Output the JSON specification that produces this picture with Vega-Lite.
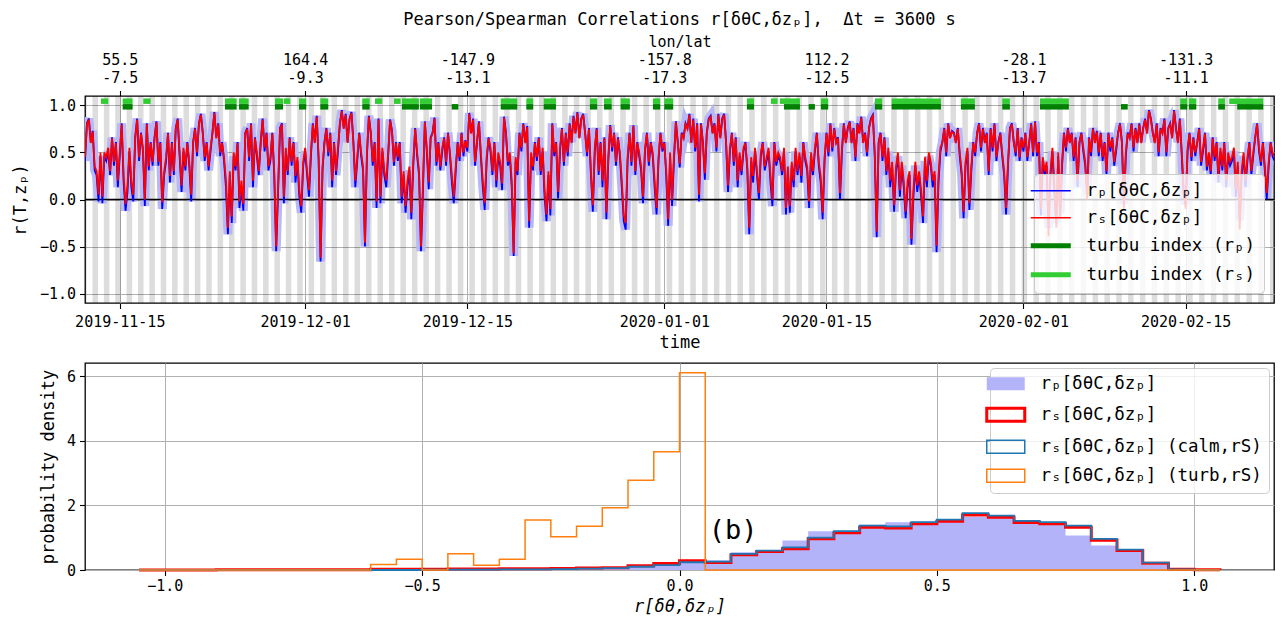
{
  "$schema": "https://vega.github.io/schema/vega-lite/v6.json",
  "background": "white",
  "padding": {"left": 10, "top": 9, "right": 9, "bottom": 3},
  "config": {
    "font": "DejaVu Sans Mono",
    "view": {"stroke": "black", "strokeWidth": 1.3},
    "axis": {"labelFont": "DejaVu Sans Mono", "labelFontSize": 15, "labelColor": "black", "titleFont": "DejaVu Sans Mono", "titleFontSize": 17, "titleFontWeight": "normal", "titleColor": "black", "tickColor": "black", "tickSize": 5.5, "tickWidth": 1.1, "domain": false, "gridColor": "#b0b0b0", "gridWidth": 1, "labelPadding": 4},
    "legend": {"labelFont": "DejaVu Sans Mono", "labelFontSize": 17.5, "labelColor": "black", "labelLimit": 0},
    "title": {"font": "DejaVu Sans Mono", "fontSize": 17, "fontWeight": "normal", "color": "black"}
  },
  "resolve": {"scale": {"stroke": "independent", "strokeWidth": "independent", "fill": "independent", "color": "independent"}, "legend": {"stroke": "independent", "strokeWidth": "independent", "fill": "independent"}},
  "spacing": 10,
  "datasets": {
    "bands": [
      {"a":"2019-11-11T15:57","b":"2019-11-12T03:28"},{"a":"2019-11-12T15:30","b":"2019-11-13T03:01"},{"a":"2019-11-13T15:03","b":"2019-11-14T02:34"},{"a":"2019-11-14T14:36","b":"2019-11-15T02:08"},
      {"a":"2019-11-15T14:10","b":"2019-11-16T01:41"},{"a":"2019-11-16T13:43","b":"2019-11-17T01:14"},{"a":"2019-11-17T13:16","b":"2019-11-18T00:48"},{"a":"2019-11-18T12:50","b":"2019-11-19T00:21"},
      {"a":"2019-11-19T12:23","b":"2019-11-19T23:54"},{"a":"2019-11-20T11:56","b":"2019-11-20T23:27"},{"a":"2019-11-21T11:30","b":"2019-11-21T23:01"},{"a":"2019-11-22T11:03","b":"2019-11-22T22:34"},
      {"a":"2019-11-23T10:36","b":"2019-11-23T22:07"},{"a":"2019-11-24T10:09","b":"2019-11-24T21:40"},{"a":"2019-11-25T09:43","b":"2019-11-25T21:14"},{"a":"2019-11-26T09:16","b":"2019-11-26T20:47"},
      {"a":"2019-11-27T08:49","b":"2019-11-27T20:20"},{"a":"2019-11-28T08:22","b":"2019-11-28T19:54"},{"a":"2019-11-29T07:56","b":"2019-11-29T19:27"},{"a":"2019-11-30T07:29","b":"2019-11-30T19:00"},
      {"a":"2019-12-01T07:09","b":"2019-12-01T18:40"},{"a":"2019-12-02T06:56","b":"2019-12-02T18:27"},{"a":"2019-12-03T06:42","b":"2019-12-03T18:13"},{"a":"2019-12-04T06:29","b":"2019-12-04T18:00"},
      {"a":"2019-12-05T06:15","b":"2019-12-05T17:47"},{"a":"2019-12-06T06:02","b":"2019-12-06T17:33"},{"a":"2019-12-07T05:48","b":"2019-12-07T17:20"},{"a":"2019-12-08T05:35","b":"2019-12-08T17:06"},
      {"a":"2019-12-09T05:21","b":"2019-12-09T16:52"},{"a":"2019-12-10T05:08","b":"2019-12-10T16:39"},{"a":"2019-12-11T04:54","b":"2019-12-11T16:26"},{"a":"2019-12-12T04:41","b":"2019-12-12T16:12"},
      {"a":"2019-12-13T04:27","b":"2019-12-13T15:58"},{"a":"2019-12-14T04:14","b":"2019-12-14T15:45"},{"a":"2019-12-15T04:07","b":"2019-12-15T15:38"},{"a":"2019-12-16T04:09","b":"2019-12-16T15:41"},
      {"a":"2019-12-17T04:12","b":"2019-12-17T15:43"},{"a":"2019-12-18T04:14","b":"2019-12-18T15:45"},{"a":"2019-12-19T04:16","b":"2019-12-19T15:47"},{"a":"2019-12-20T04:19","b":"2019-12-20T15:50"},
      {"a":"2019-12-21T04:21","b":"2019-12-21T15:52"},{"a":"2019-12-22T04:23","b":"2019-12-22T15:54"},{"a":"2019-12-23T04:26","b":"2019-12-23T15:57"},{"a":"2019-12-24T04:28","b":"2019-12-24T15:59"},
      {"a":"2019-12-25T04:30","b":"2019-12-25T16:01"},{"a":"2019-12-26T04:33","b":"2019-12-26T16:04"},{"a":"2019-12-27T04:35","b":"2019-12-27T16:06"},{"a":"2019-12-28T04:37","b":"2019-12-28T16:08"},
      {"a":"2019-12-29T04:40","b":"2019-12-29T16:11"},{"a":"2019-12-30T04:42","b":"2019-12-30T16:13"},{"a":"2019-12-31T04:44","b":"2019-12-31T16:15"},{"a":"2020-01-01T04:57","b":"2020-01-01T16:28"},
      {"a":"2020-01-02T05:23","b":"2020-01-02T16:54"},{"a":"2020-01-03T05:49","b":"2020-01-03T17:20"},{"a":"2020-01-04T06:15","b":"2020-01-04T17:46"},{"a":"2020-01-05T06:41","b":"2020-01-05T18:12"},
      {"a":"2020-01-06T07:08","b":"2020-01-06T18:39"},{"a":"2020-01-07T07:34","b":"2020-01-07T19:05"},{"a":"2020-01-08T08:00","b":"2020-01-08T19:31"},{"a":"2020-01-09T08:26","b":"2020-01-09T19:57"},
      {"a":"2020-01-10T08:52","b":"2020-01-10T20:23"},{"a":"2020-01-11T09:19","b":"2020-01-11T20:50"},{"a":"2020-01-12T09:45","b":"2020-01-12T21:16"},{"a":"2020-01-13T10:11","b":"2020-01-13T21:42"},
      {"a":"2020-01-14T10:37","b":"2020-01-14T22:08"},{"a":"2020-01-15T11:09","b":"2020-01-15T22:40"},{"a":"2020-01-16T11:42","b":"2020-01-16T23:13"},{"a":"2020-01-17T12:16","b":"2020-01-17T23:47"},
      {"a":"2020-01-18T12:50","b":"2020-01-19T00:21"},{"a":"2020-01-19T13:24","b":"2020-01-20T00:55"},{"a":"2020-01-20T13:58","b":"2020-01-21T01:29"},{"a":"2020-01-21T14:31","b":"2020-01-22T02:03"},
      {"a":"2020-01-22T15:05","b":"2020-01-23T02:37"},{"a":"2020-01-23T15:39","b":"2020-01-24T03:10"},{"a":"2020-01-24T16:13","b":"2020-01-25T03:44"},{"a":"2020-01-25T16:47","b":"2020-01-26T04:18"},
      {"a":"2020-01-26T17:20","b":"2020-01-27T04:52"},{"a":"2020-01-27T17:54","b":"2020-01-28T05:25"},{"a":"2020-01-28T18:28","b":"2020-01-29T05:59"},{"a":"2020-01-29T19:02","b":"2020-01-30T06:33"},
      {"a":"2020-01-30T19:36","b":"2020-01-31T07:07"},{"a":"2020-01-31T20:09","b":"2020-02-01T07:40"},{"a":"2020-02-01T20:39","b":"2020-02-02T08:11"},{"a":"2020-02-02T21:09","b":"2020-02-03T08:41"},
      {"a":"2020-02-03T21:39","b":"2020-02-04T09:11"},{"a":"2020-02-04T22:10","b":"2020-02-05T09:41"},{"a":"2020-02-05T22:40","b":"2020-02-06T10:11"},{"a":"2020-02-06T23:10","b":"2020-02-07T10:41"},
      {"a":"2020-02-07T23:40","b":"2020-02-08T11:11"},{"a":"2020-02-09T00:10","b":"2020-02-09T11:41"},{"a":"2020-02-10T00:40","b":"2020-02-10T12:11"},{"a":"2020-02-11T01:10","b":"2020-02-11T12:41"},
      {"a":"2020-02-12T01:40","b":"2020-02-12T13:11"},{"a":"2020-02-13T02:10","b":"2020-02-13T13:42"},{"a":"2020-02-14T02:40","b":"2020-02-14T14:12"},{"a":"2020-02-15T03:11","b":"2020-02-15T14:42"},
      {"a":"2020-02-16T03:41","b":"2020-02-16T15:12"},{"a":"2020-02-17T04:11","b":"2020-02-17T15:42"},{"a":"2020-02-18T04:41","b":"2020-02-18T16:12"},{"a":"2020-02-19T05:11","b":"2020-02-19T16:42"},
      {"a":"2020-02-20T05:41","b":"2020-02-20T17:12"},{"a":"2020-02-21T06:11","b":"2020-02-21T17:42"},{"a":"2020-02-22T06:41","b":"2020-02-22T18:12"}
    ],
    "greens": [
      {"a":"2019-11-13T09:07","b":"2019-11-14T00:14","k":"S"},
      {"a":"2019-11-15T06:00","b":"2019-11-16T02:38","k":"S"},{"a":"2019-11-15T06:00","b":"2019-11-16T02:38","k":"P"},
      {"a":"2019-11-17T00:43","b":"2019-11-17T16:05","k":"S"},
      {"a":"2019-11-24T01:55","b":"2019-11-25T02:10","k":"S"},{"a":"2019-11-24T01:55","b":"2019-11-25T02:10","k":"P"},
      {"a":"2019-11-25T06:58","b":"2019-11-26T03:07","k":"S"},{"a":"2019-11-25T06:58","b":"2019-11-26T03:07","k":"P"},
      {"a":"2019-11-28T09:36","b":"2019-11-29T02:10","k":"S"},{"a":"2019-11-28T09:36","b":"2019-11-29T02:10","k":"P"},
      {"a":"2019-11-29T03:36","b":"2019-11-29T17:17","k":"S"},
      {"a":"2019-11-30T11:17","b":"2019-12-01T02:24","k":"S"},{"a":"2019-11-30T11:17","b":"2019-12-01T02:24","k":"P"},
      {"a":"2019-12-02T07:26","b":"2019-12-03T00:00","k":"S"},{"a":"2019-12-02T07:26","b":"2019-12-03T00:00","k":"P"},
      {"a":"2019-12-05T22:19","b":"2019-12-06T13:41","k":"S"},{"a":"2019-12-05T22:19","b":"2019-12-06T13:41","k":"P"},
      {"a":"2019-12-07T00:43","b":"2019-12-07T15:50","k":"S"},
      {"a":"2019-12-08T16:05","b":"2019-12-09T05:46","k":"S"},
      {"a":"2019-12-09T08:38","b":"2019-12-10T19:41","k":"S"},{"a":"2019-12-09T08:38","b":"2019-12-10T19:41","k":"P"},
      {"a":"2019-12-10T21:50","b":"2019-12-11T22:48","k":"S"},{"a":"2019-12-10T21:50","b":"2019-12-11T22:48","k":"P"},
      {"a":"2019-12-13T15:36","b":"2019-12-14T05:17","k":"P"},
      {"a":"2019-12-17T21:07","b":"2019-12-19T07:26","k":"S"},{"a":"2019-12-17T21:07","b":"2019-12-19T07:26","k":"P"},
      {"a":"2019-12-20T02:10","b":"2019-12-20T16:34","k":"S"},{"a":"2019-12-20T02:10","b":"2019-12-20T16:34","k":"P"},
      {"a":"2019-12-21T14:10","b":"2019-12-22T15:36","k":"S"},{"a":"2019-12-21T14:10","b":"2019-12-22T15:36","k":"P"},
      {"a":"2019-12-25T13:55","b":"2019-12-26T05:02","k":"S"},{"a":"2019-12-25T13:55","b":"2019-12-26T05:02","k":"P"},
      {"a":"2019-12-26T18:58","b":"2019-12-27T11:02","k":"S"},{"a":"2019-12-26T18:58","b":"2019-12-27T11:02","k":"P"},
      {"a":"2019-12-28T05:31","b":"2019-12-29T00:43","k":"S"},{"a":"2019-12-28T05:31","b":"2019-12-29T00:43","k":"P"},
      {"a":"2019-12-31T00:29","b":"2019-12-31T15:36","k":"S"},{"a":"2019-12-31T00:29","b":"2019-12-31T15:36","k":"P"},
      {"a":"2020-01-01T00:00","b":"2020-01-01T18:29","k":"S"},{"a":"2020-01-01T00:00","b":"2020-01-01T18:29","k":"P"},
      {"a":"2020-01-08T03:07","b":"2020-01-08T17:46","k":"S"},{"a":"2020-01-08T03:07","b":"2020-01-08T17:46","k":"P"},
      {"a":"2020-01-10T05:02","b":"2020-01-10T18:43","k":"S"},
      {"a":"2020-01-10T23:31","b":"2020-01-12T17:02","k":"S"},{"a":"2020-01-11T07:55","b":"2020-01-12T17:02","k":"P"},
      {"a":"2020-01-13T11:02","b":"2020-01-14T00:00","k":"P"},
      {"a":"2020-01-14T12:29","b":"2020-01-15T03:36","k":"S"},{"a":"2020-01-14T12:29","b":"2020-01-15T03:36","k":"P"},
      {"a":"2020-01-19T04:19","b":"2020-01-19T19:26","k":"S"},{"a":"2020-01-19T04:19","b":"2020-01-19T19:26","k":"P"},
      {"a":"2020-01-20T14:53","b":"2020-01-24T21:07","k":"S"},{"a":"2020-01-20T14:53","b":"2020-01-24T21:07","k":"P"},
      {"a":"2020-01-26T14:24","b":"2020-01-27T19:26","k":"S"},{"a":"2020-01-26T14:24","b":"2020-01-27T19:26","k":"P"},
      {"a":"2020-01-30T04:05","b":"2020-01-30T19:55","k":"S"},{"a":"2020-01-30T04:05","b":"2020-01-30T19:55","k":"P"},
      {"a":"2020-02-02T10:05","b":"2020-02-04T22:05","k":"S"},{"a":"2020-02-02T10:05","b":"2020-02-04T22:05","k":"P"},
      {"a":"2020-02-09T10:05","b":"2020-02-10T00:00","k":"P"},
      {"a":"2020-02-14T12:43","b":"2020-02-15T03:22","k":"S"},{"a":"2020-02-14T12:43","b":"2020-02-15T03:22","k":"P"},
      {"a":"2020-02-15T06:58","b":"2020-02-15T22:05","k":"S"},{"a":"2020-02-15T06:58","b":"2020-02-15T22:05","k":"P"},
      {"a":"2020-02-17T19:26","b":"2020-02-18T09:22","k":"S"},{"a":"2020-02-17T19:26","b":"2020-02-18T09:22","k":"P"},
      {"a":"2020-02-18T18:14","b":"2020-02-21T16:48","k":"S"},{"a":"2020-02-19T10:48","b":"2020-02-21T16:48","k":"P"}
    ],
    "ts": [
      {"t":"2019-11-12T00:00","p":0.41,"s":0.45},{"t":"2019-11-12T04:00","p":0.81,"s":0.8},{"t":"2019-11-12T08:00","p":0.86,"s":0.85},{"t":"2019-11-12T12:00","p":0.61,"s":0.6},{"t":"2019-11-12T16:00","p":0.73,"s":0.72},{"t":"2019-11-12T20:00","p":0.31,"s":0.35},
      {"t":"2019-11-13T00:00","p":0.26,"s":0.3},{"t":"2019-11-13T04:00","p":-0.02,"s":0.05},{"t":"2019-11-13T08:00","p":0.46,"s":0.5},{"t":"2019-11-13T12:00","p":-0.04,"s":0.03},{"t":"2019-11-13T16:00","p":0.46,"s":0.5},{"t":"2019-11-13T20:00","p":0.41,"s":0.45},
      {"t":"2019-11-14T00:00","p":0.51,"s":0.55},{"t":"2019-11-14T04:00","p":0.26,"s":0.3},{"t":"2019-11-14T08:00","p":0.66,"s":0.65},{"t":"2019-11-14T12:00","p":0.36,"s":0.4},{"t":"2019-11-14T16:00","p":0.61,"s":0.6},{"t":"2019-11-14T20:00","p":0.13,"s":0.2},
      {"t":"2019-11-15T00:00","p":0.46,"s":0.5},{"t":"2019-11-15T04:00","p":0.81,"s":0.8},{"t":"2019-11-15T08:00","p":0.18,"s":0.25},{"t":"2019-11-15T12:00","p":-0.12,"s":-0.05},{"t":"2019-11-15T16:00","p":0.08,"s":0.15},{"t":"2019-11-15T20:00","p":0.51,"s":0.55},
      {"t":"2019-11-16T00:00","p":0.13,"s":0.2},{"t":"2019-11-16T04:00","p":-0.02,"s":0.05},{"t":"2019-11-16T08:00","p":0.66,"s":0.65},{"t":"2019-11-16T12:00","p":0.86,"s":0.85},{"t":"2019-11-16T16:00","p":0.41,"s":0.45},{"t":"2019-11-16T20:00","p":0.71,"s":0.7},
      {"t":"2019-11-17T00:00","p":0.51,"s":0.55},{"t":"2019-11-17T04:00","p":-0.07,"s":0.0},{"t":"2019-11-17T08:00","p":0.81,"s":0.8},{"t":"2019-11-17T12:00","p":0.31,"s":0.35},{"t":"2019-11-17T16:00","p":0.61,"s":0.6},{"t":"2019-11-17T20:00","p":0.36,"s":0.4},
      {"t":"2019-11-18T00:00","p":0.66,"s":0.65},{"t":"2019-11-18T04:00","p":0.83,"s":0.82},{"t":"2019-11-18T08:00","p":0.36,"s":0.4},{"t":"2019-11-18T12:00","p":0.61,"s":0.6},{"t":"2019-11-18T16:00","p":-0.1,"s":-0.03},{"t":"2019-11-18T20:00","p":0.26,"s":0.3},
      {"t":"2019-11-19T00:00","p":0.41,"s":0.45},{"t":"2019-11-19T04:00","p":0.71,"s":0.7},{"t":"2019-11-19T08:00","p":0.18,"s":0.25},{"t":"2019-11-19T12:00","p":0.61,"s":0.6},{"t":"2019-11-19T16:00","p":0.26,"s":0.3},{"t":"2019-11-19T20:00","p":0.76,"s":0.75},
      {"t":"2019-11-20T00:00","p":0.86,"s":0.85},{"t":"2019-11-20T04:00","p":0.46,"s":0.5},{"t":"2019-11-20T08:00","p":0.08,"s":0.15},{"t":"2019-11-20T12:00","p":0.51,"s":0.55},{"t":"2019-11-20T16:00","p":0.31,"s":0.35},{"t":"2019-11-20T20:00","p":0.61,"s":0.6},
      {"t":"2019-11-21T00:00","p":0.36,"s":0.4},{"t":"2019-11-21T04:00","p":-0.02,"s":0.05},{"t":"2019-11-21T08:00","p":0.61,"s":0.6},{"t":"2019-11-21T12:00","p":0.76,"s":0.75},{"t":"2019-11-21T16:00","p":0.46,"s":0.5},{"t":"2019-11-21T20:00","p":0.81,"s":0.8},
      {"t":"2019-11-22T00:00","p":0.91,"s":0.9},{"t":"2019-11-22T04:00","p":0.71,"s":0.7},{"t":"2019-11-22T08:00","p":0.41,"s":0.45},{"t":"2019-11-22T12:00","p":0.61,"s":0.6},{"t":"2019-11-22T16:00","p":0.31,"s":0.35},{"t":"2019-11-22T20:00","p":0.51,"s":0.55},
      {"t":"2019-11-23T00:00","p":0.71,"s":0.7},{"t":"2019-11-23T04:00","p":0.93,"s":0.92},{"t":"2019-11-23T08:00","p":0.66,"s":0.65},{"t":"2019-11-23T12:00","p":0.81,"s":0.8},{"t":"2019-11-23T16:00","p":0.46,"s":0.5},{"t":"2019-11-23T20:00","p":0.61,"s":0.6},
      {"t":"2019-11-24T00:00","p":0.41,"s":0.45},{"t":"2019-11-24T04:00","p":0.13,"s":0.2},{"t":"2019-11-24T08:00","p":-0.37,"s":-0.3},{"t":"2019-11-24T12:00","p":0.26,"s":0.3},{"t":"2019-11-24T16:00","p":-0.25,"s":-0.18},{"t":"2019-11-24T20:00","p":0.46,"s":0.5},
      {"t":"2019-11-25T00:00","p":0.31,"s":0.35},{"t":"2019-11-25T04:00","p":0.61,"s":0.6},{"t":"2019-11-25T08:00","p":-0.09,"s":-0.02},{"t":"2019-11-25T12:00","p":0.13,"s":0.2},{"t":"2019-11-25T16:00","p":-0.12,"s":-0.05},{"t":"2019-11-25T20:00","p":0.71,"s":0.7},
      {"t":"2019-11-26T00:00","p":0.76,"s":0.75},{"t":"2019-11-26T04:00","p":0.41,"s":0.45},{"t":"2019-11-26T08:00","p":0.81,"s":0.8},{"t":"2019-11-26T12:00","p":0.13,"s":0.2},{"t":"2019-11-26T16:00","p":0.66,"s":0.65},{"t":"2019-11-26T20:00","p":0.46,"s":0.5},
      {"t":"2019-11-27T00:00","p":0.26,"s":0.3},{"t":"2019-11-27T04:00","p":0.61,"s":0.6},{"t":"2019-11-27T08:00","p":0.86,"s":0.85},{"t":"2019-11-27T12:00","p":0.51,"s":0.55},{"t":"2019-11-27T16:00","p":0.71,"s":0.7},{"t":"2019-11-27T20:00","p":0.31,"s":0.35},
      {"t":"2019-11-28T00:00","p":0.41,"s":0.45},{"t":"2019-11-28T04:00","p":0.71,"s":0.7},{"t":"2019-11-28T08:00","p":0.26,"s":0.3},{"t":"2019-11-28T12:00","p":-0.55,"s":-0.5},{"t":"2019-11-28T16:00","p":0.08,"s":0.15},{"t":"2019-11-28T20:00","p":0.76,"s":0.75},
      {"t":"2019-11-29T00:00","p":0.81,"s":0.8},{"t":"2019-11-29T04:00","p":-0.04,"s":0.03},{"t":"2019-11-29T08:00","p":0.51,"s":0.55},{"t":"2019-11-29T12:00","p":0.26,"s":0.3},{"t":"2019-11-29T16:00","p":0.66,"s":0.65},{"t":"2019-11-29T20:00","p":0.36,"s":0.4},
      {"t":"2019-11-30T00:00","p":0.61,"s":0.6},{"t":"2019-11-30T04:00","p":0.18,"s":0.25},{"t":"2019-11-30T08:00","p":0.41,"s":0.45},{"t":"2019-11-30T12:00","p":0.03,"s":0.1},{"t":"2019-11-30T16:00","p":-0.14,"s":-0.07},{"t":"2019-11-30T20:00","p":0.36,"s":0.4},
      {"t":"2019-12-01T00:00","p":0.51,"s":0.55},{"t":"2019-12-01T04:00","p":0.26,"s":0.3},{"t":"2019-12-01T08:00","p":0.03,"s":0.1},{"t":"2019-12-01T12:00","p":0.46,"s":0.5},{"t":"2019-12-01T16:00","p":0.81,"s":0.8},{"t":"2019-12-01T20:00","p":0.61,"s":0.6},
      {"t":"2019-12-02T00:00","p":0.89,"s":0.88},{"t":"2019-12-02T04:00","p":0.41,"s":0.45},{"t":"2019-12-02T08:00","p":-0.66,"s":-0.62},{"t":"2019-12-02T12:00","p":0.31,"s":0.35},{"t":"2019-12-02T16:00","p":0.61,"s":0.6},{"t":"2019-12-02T20:00","p":0.76,"s":0.75},
      {"t":"2019-12-03T00:00","p":0.46,"s":0.5},{"t":"2019-12-03T04:00","p":0.71,"s":0.7},{"t":"2019-12-03T08:00","p":0.13,"s":0.2},{"t":"2019-12-03T12:00","p":0.61,"s":0.6},{"t":"2019-12-03T16:00","p":0.26,"s":0.3},{"t":"2019-12-03T20:00","p":0.51,"s":0.55},
      {"t":"2019-12-04T00:00","p":0.81,"s":0.8},{"t":"2019-12-04T04:00","p":0.95,"s":0.94},{"t":"2019-12-04T08:00","p":0.76,"s":0.75},{"t":"2019-12-04T12:00","p":0.91,"s":0.9},{"t":"2019-12-04T16:00","p":0.61,"s":0.6},{"t":"2019-12-04T20:00","p":0.86,"s":0.85},
      {"t":"2019-12-05T00:00","p":0.93,"s":0.92},{"t":"2019-12-05T04:00","p":0.61,"s":0.6},{"t":"2019-12-05T08:00","p":0.13,"s":0.2},{"t":"2019-12-05T12:00","p":0.41,"s":0.45},{"t":"2019-12-05T16:00","p":0.71,"s":0.7},{"t":"2019-12-05T20:00","p":0.46,"s":0.5},
      {"t":"2019-12-06T00:00","p":0.31,"s":0.35},{"t":"2019-12-06T04:00","p":-0.5,"s":-0.46},{"t":"2019-12-06T08:00","p":0.46,"s":0.5},{"t":"2019-12-06T12:00","p":0.89,"s":0.88},{"t":"2019-12-06T16:00","p":0.71,"s":0.7},{"t":"2019-12-06T20:00","p":0.36,"s":0.4},
      {"t":"2019-12-07T00:00","p":0.61,"s":0.6},{"t":"2019-12-07T04:00","p":-0.09,"s":-0.02},{"t":"2019-12-07T08:00","p":0.86,"s":0.85},{"t":"2019-12-07T12:00","p":-0.04,"s":0.03},{"t":"2019-12-07T16:00","p":0.51,"s":0.55},{"t":"2019-12-07T20:00","p":0.26,"s":0.3},
      {"t":"2019-12-08T00:00","p":0.13,"s":0.2},{"t":"2019-12-08T04:00","p":0.46,"s":0.5},{"t":"2019-12-08T08:00","p":0.85,"s":0.84},{"t":"2019-12-08T12:00","p":0.73,"s":0.72},{"t":"2019-12-08T16:00","p":0.36,"s":0.4},{"t":"2019-12-08T20:00","p":0.61,"s":0.6},
      {"t":"2019-12-09T00:00","p":0.41,"s":0.45},{"t":"2019-12-09T04:00","p":0.61,"s":0.6},{"t":"2019-12-09T08:00","p":-0.04,"s":0.03},{"t":"2019-12-09T12:00","p":0.26,"s":0.3},{"t":"2019-12-09T16:00","p":-0.14,"s":-0.07},{"t":"2019-12-09T20:00","p":0.13,"s":0.2},
      {"t":"2019-12-10T00:00","p":0.31,"s":0.35},{"t":"2019-12-10T04:00","p":-0.21,"s":-0.14},{"t":"2019-12-10T08:00","p":0.36,"s":0.4},{"t":"2019-12-10T12:00","p":0.76,"s":0.75},{"t":"2019-12-10T16:00","p":0.46,"s":0.5},{"t":"2019-12-10T20:00","p":0.26,"s":0.3},
      {"t":"2019-12-11T00:00","p":-0.55,"s":-0.5},{"t":"2019-12-11T04:00","p":0.08,"s":0.15},{"t":"2019-12-11T08:00","p":0.83,"s":0.82},{"t":"2019-12-11T12:00","p":0.51,"s":0.55},{"t":"2019-12-11T16:00","p":0.11,"s":0.18},{"t":"2019-12-11T20:00","p":0.66,"s":0.65},
      {"t":"2019-12-12T00:00","p":0.71,"s":0.7},{"t":"2019-12-12T04:00","p":0.87,"s":0.86},{"t":"2019-12-12T08:00","p":0.36,"s":0.4},{"t":"2019-12-12T12:00","p":0.61,"s":0.6},{"t":"2019-12-12T16:00","p":0.31,"s":0.35},{"t":"2019-12-12T20:00","p":0.51,"s":0.55},
      {"t":"2019-12-13T00:00","p":0.66,"s":0.65},{"t":"2019-12-13T04:00","p":0.36,"s":0.4},{"t":"2019-12-13T08:00","p":0.71,"s":0.7},{"t":"2019-12-13T12:00","p":0.46,"s":0.5},{"t":"2019-12-13T16:00","p":0.18,"s":0.25},{"t":"2019-12-13T20:00","p":-0.04,"s":0.03},
      {"t":"2019-12-14T00:00","p":0.31,"s":0.35},{"t":"2019-12-14T04:00","p":0.61,"s":0.6},{"t":"2019-12-14T08:00","p":0.41,"s":0.45},{"t":"2019-12-14T12:00","p":0.71,"s":0.7},{"t":"2019-12-14T16:00","p":0.46,"s":0.5},{"t":"2019-12-14T20:00","p":0.63,"s":0.62},
      {"t":"2019-12-15T00:00","p":0.51,"s":0.55},{"t":"2019-12-15T04:00","p":0.92,"s":0.91},{"t":"2019-12-15T08:00","p":0.71,"s":0.7},{"t":"2019-12-15T12:00","p":0.86,"s":0.85},{"t":"2019-12-15T16:00","p":0.36,"s":0.4},{"t":"2019-12-15T20:00","p":0.61,"s":0.6},
      {"t":"2019-12-16T00:00","p":0.83,"s":0.82},{"t":"2019-12-16T04:00","p":0.46,"s":0.5},{"t":"2019-12-16T08:00","p":0.13,"s":0.2},{"t":"2019-12-16T12:00","p":-0.11,"s":-0.04},{"t":"2019-12-16T16:00","p":0.41,"s":0.45},{"t":"2019-12-16T20:00","p":0.66,"s":0.65},
      {"t":"2019-12-17T00:00","p":0.51,"s":0.55},{"t":"2019-12-17T04:00","p":0.26,"s":0.3},{"t":"2019-12-17T08:00","p":0.61,"s":0.6},{"t":"2019-12-17T12:00","p":0.13,"s":0.2},{"t":"2019-12-17T16:00","p":0.46,"s":0.5},{"t":"2019-12-17T20:00","p":0.36,"s":0.4},
      {"t":"2019-12-18T00:00","p":0.1,"s":0.17},{"t":"2019-12-18T04:00","p":0.88,"s":0.87},{"t":"2019-12-18T08:00","p":0.71,"s":0.7},{"t":"2019-12-18T12:00","p":0.36,"s":0.4},{"t":"2019-12-18T16:00","p":0.46,"s":0.5},{"t":"2019-12-18T20:00","p":0.13,"s":0.2},
      {"t":"2019-12-19T00:00","p":-0.6,"s":-0.57},{"t":"2019-12-19T04:00","p":0.41,"s":0.45},{"t":"2019-12-19T08:00","p":0.26,"s":0.3},{"t":"2019-12-19T12:00","p":0.71,"s":0.7},{"t":"2019-12-19T16:00","p":0.51,"s":0.55},{"t":"2019-12-19T20:00","p":0.81,"s":0.8},
      {"t":"2019-12-20T00:00","p":0.61,"s":0.6},{"t":"2019-12-20T04:00","p":0.78,"s":0.77},{"t":"2019-12-20T08:00","p":-0.3,"s":-0.23},{"t":"2019-12-20T12:00","p":0.46,"s":0.5},{"t":"2019-12-20T16:00","p":0.31,"s":0.35},{"t":"2019-12-20T20:00","p":0.61,"s":0.6},
      {"t":"2019-12-21T00:00","p":0.41,"s":0.45},{"t":"2019-12-21T04:00","p":0.66,"s":0.65},{"t":"2019-12-21T08:00","p":0.26,"s":0.3},{"t":"2019-12-21T12:00","p":0.51,"s":0.55},{"t":"2019-12-21T16:00","p":0.03,"s":0.1},{"t":"2019-12-21T20:00","p":-0.23,"s":-0.16},
      {"t":"2019-12-22T00:00","p":0.26,"s":0.3},{"t":"2019-12-22T04:00","p":-0.17,"s":-0.1},{"t":"2019-12-22T08:00","p":0.81,"s":0.8},{"t":"2019-12-22T12:00","p":0.46,"s":0.5},{"t":"2019-12-22T16:00","p":0.61,"s":0.6},{"t":"2019-12-22T20:00","p":0.01,"s":0.08},
      {"t":"2019-12-23T00:00","p":0.51,"s":0.55},{"t":"2019-12-23T04:00","p":0.76,"s":0.75},{"t":"2019-12-23T08:00","p":0.36,"s":0.4},{"t":"2019-12-23T12:00","p":0.71,"s":0.7},{"t":"2019-12-23T16:00","p":0.46,"s":0.5},{"t":"2019-12-23T20:00","p":0.81,"s":0.8},
      {"t":"2019-12-24T00:00","p":0.61,"s":0.6},{"t":"2019-12-24T04:00","p":0.89,"s":0.88},{"t":"2019-12-24T08:00","p":0.71,"s":0.7},{"t":"2019-12-24T12:00","p":0.93,"s":0.92},{"t":"2019-12-24T16:00","p":0.66,"s":0.65},{"t":"2019-12-24T20:00","p":0.86,"s":0.85},
      {"t":"2019-12-25T00:00","p":0.91,"s":0.9},{"t":"2019-12-25T04:00","p":0.71,"s":0.7},{"t":"2019-12-25T08:00","p":0.46,"s":0.5},{"t":"2019-12-25T12:00","p":0.76,"s":0.75},{"t":"2019-12-25T16:00","p":0.26,"s":0.3},{"t":"2019-12-25T20:00","p":-0.13,"s":-0.06},
      {"t":"2019-12-26T00:00","p":0.51,"s":0.55},{"t":"2019-12-26T04:00","p":0.76,"s":0.75},{"t":"2019-12-26T08:00","p":0.26,"s":0.3},{"t":"2019-12-26T12:00","p":0.61,"s":0.6},{"t":"2019-12-26T16:00","p":0.13,"s":0.2},{"t":"2019-12-26T20:00","p":0.66,"s":0.65},
      {"t":"2019-12-27T00:00","p":-0.21,"s":-0.14},{"t":"2019-12-27T04:00","p":0.41,"s":0.45},{"t":"2019-12-27T08:00","p":0.79,"s":0.78},{"t":"2019-12-27T12:00","p":0.51,"s":0.55},{"t":"2019-12-27T16:00","p":0.71,"s":0.7},{"t":"2019-12-27T20:00","p":0.36,"s":0.4},
      {"t":"2019-12-28T00:00","p":0.66,"s":0.65},{"t":"2019-12-28T04:00","p":0.46,"s":0.5},{"t":"2019-12-28T08:00","p":0.13,"s":0.2},{"t":"2019-12-28T12:00","p":-0.23,"s":-0.16},{"t":"2019-12-28T16:00","p":-0.32,"s":-0.25},{"t":"2019-12-28T20:00","p":0.41,"s":0.45},
      {"t":"2019-12-29T00:00","p":0.71,"s":0.7},{"t":"2019-12-29T04:00","p":0.36,"s":0.4},{"t":"2019-12-29T08:00","p":0.79,"s":0.78},{"t":"2019-12-29T12:00","p":0.26,"s":0.3},{"t":"2019-12-29T16:00","p":0.61,"s":0.6},{"t":"2019-12-29T20:00","p":0.46,"s":0.5},
      {"t":"2019-12-30T00:00","p":0.31,"s":0.35},{"t":"2019-12-30T04:00","p":-0.04,"s":0.03},{"t":"2019-12-30T08:00","p":0.51,"s":0.55},{"t":"2019-12-30T12:00","p":0.71,"s":0.7},{"t":"2019-12-30T16:00","p":0.36,"s":0.4},{"t":"2019-12-30T20:00","p":0.61,"s":0.6},
      {"t":"2019-12-31T00:00","p":0.46,"s":0.5},{"t":"2019-12-31T04:00","p":0.13,"s":0.2},{"t":"2019-12-31T08:00","p":-0.16,"s":-0.09},{"t":"2019-12-31T12:00","p":0.41,"s":0.45},{"t":"2019-12-31T16:00","p":0.71,"s":0.7},{"t":"2019-12-31T20:00","p":0.51,"s":0.55},
      {"t":"2020-01-01T00:00","p":0.61,"s":0.6},{"t":"2020-01-01T04:00","p":0.26,"s":0.3},{"t":"2020-01-01T08:00","p":-0.28,"s":-0.21},{"t":"2020-01-01T12:00","p":0.46,"s":0.5},{"t":"2020-01-01T16:00","p":-0.07,"s":0.0},{"t":"2020-01-01T20:00","p":0.41,"s":0.45},
      {"t":"2020-01-02T00:00","p":0.83,"s":0.82},{"t":"2020-01-02T04:00","p":0.61,"s":0.6},{"t":"2020-01-02T08:00","p":0.34,"s":0.38},{"t":"2020-01-02T12:00","p":0.71,"s":0.7},{"t":"2020-01-02T16:00","p":0.66,"s":0.65},{"t":"2020-01-02T20:00","p":0.81,"s":0.8},
      {"t":"2020-01-03T00:00","p":0.76,"s":0.75},{"t":"2020-01-03T04:00","p":0.91,"s":0.9},{"t":"2020-01-03T08:00","p":0.61,"s":0.6},{"t":"2020-01-03T12:00","p":0.86,"s":0.85},{"t":"2020-01-03T16:00","p":0.51,"s":0.55},{"t":"2020-01-03T20:00","p":0.81,"s":0.8},
      {"t":"2020-01-04T00:00","p":-0.02,"s":0.05},{"t":"2020-01-04T04:00","p":0.81,"s":0.8},{"t":"2020-01-04T08:00","p":0.61,"s":0.6},{"t":"2020-01-04T12:00","p":0.21,"s":0.28},{"t":"2020-01-04T16:00","p":0.71,"s":0.7},{"t":"2020-01-04T20:00","p":0.86,"s":0.85},
      {"t":"2020-01-05T00:00","p":0.89,"s":0.88},{"t":"2020-01-05T04:00","p":0.71,"s":0.7},{"t":"2020-01-05T08:00","p":0.81,"s":0.8},{"t":"2020-01-05T12:00","p":0.51,"s":0.55},{"t":"2020-01-05T16:00","p":0.91,"s":0.9},{"t":"2020-01-05T20:00","p":0.66,"s":0.65},
      {"t":"2020-01-06T00:00","p":0.86,"s":0.85},{"t":"2020-01-06T04:00","p":0.91,"s":0.9},{"t":"2020-01-06T08:00","p":0.61,"s":0.6},{"t":"2020-01-06T12:00","p":0.08,"s":0.15},{"t":"2020-01-06T16:00","p":0.51,"s":0.55},{"t":"2020-01-06T20:00","p":0.71,"s":0.7},
      {"t":"2020-01-07T00:00","p":0.36,"s":0.4},{"t":"2020-01-07T04:00","p":0.66,"s":0.65},{"t":"2020-01-07T08:00","p":0.13,"s":0.2},{"t":"2020-01-07T12:00","p":0.46,"s":0.5},{"t":"2020-01-07T16:00","p":0.26,"s":0.3},{"t":"2020-01-07T20:00","p":0.51,"s":0.55},
      {"t":"2020-01-08T00:00","p":0.61,"s":0.6},{"t":"2020-01-08T04:00","p":0.31,"s":0.35},{"t":"2020-01-08T08:00","p":-0.37,"s":-0.3},{"t":"2020-01-08T12:00","p":0.41,"s":0.45},{"t":"2020-01-08T16:00","p":0.18,"s":0.25},{"t":"2020-01-08T20:00","p":0.51,"s":0.55},
      {"t":"2020-01-09T00:00","p":0.26,"s":0.3},{"t":"2020-01-09T04:00","p":0.0,"s":0.07},{"t":"2020-01-09T08:00","p":0.46,"s":0.5},{"t":"2020-01-09T12:00","p":0.61,"s":0.6},{"t":"2020-01-09T16:00","p":0.31,"s":0.35},{"t":"2020-01-09T20:00","p":0.41,"s":0.45},
      {"t":"2020-01-10T00:00","p":0.51,"s":0.55},{"t":"2020-01-10T04:00","p":0.18,"s":0.25},{"t":"2020-01-10T08:00","p":-0.07,"s":0.0},{"t":"2020-01-10T12:00","p":0.61,"s":0.6},{"t":"2020-01-10T16:00","p":0.36,"s":0.4},{"t":"2020-01-10T20:00","p":0.46,"s":0.5},
      {"t":"2020-01-11T00:00","p":0.41,"s":0.45},{"t":"2020-01-11T04:00","p":0.26,"s":0.3},{"t":"2020-01-11T08:00","p":0.51,"s":0.55},{"t":"2020-01-11T12:00","p":-0.16,"s":-0.09},{"t":"2020-01-11T16:00","p":0.31,"s":0.35},{"t":"2020-01-11T20:00","p":-0.14,"s":-0.07},
      {"t":"2020-01-12T00:00","p":0.36,"s":0.4},{"t":"2020-01-12T04:00","p":0.13,"s":0.2},{"t":"2020-01-12T08:00","p":0.51,"s":0.55},{"t":"2020-01-12T12:00","p":0.26,"s":0.3},{"t":"2020-01-12T16:00","p":0.46,"s":0.5},{"t":"2020-01-12T20:00","p":0.18,"s":0.25},
      {"t":"2020-01-13T00:00","p":0.61,"s":0.6},{"t":"2020-01-13T04:00","p":0.41,"s":0.45},{"t":"2020-01-13T08:00","p":0.31,"s":0.35},{"t":"2020-01-13T12:00","p":-0.09,"s":-0.02},{"t":"2020-01-13T16:00","p":0.46,"s":0.5},{"t":"2020-01-13T20:00","p":0.26,"s":0.3},
      {"t":"2020-01-14T00:00","p":0.51,"s":0.55},{"t":"2020-01-14T04:00","p":0.71,"s":0.7},{"t":"2020-01-14T08:00","p":0.36,"s":0.4},{"t":"2020-01-14T12:00","p":0.18,"s":0.25},{"t":"2020-01-14T16:00","p":-0.21,"s":-0.14},{"t":"2020-01-14T20:00","p":0.41,"s":0.45},
      {"t":"2020-01-15T00:00","p":0.71,"s":0.7},{"t":"2020-01-15T04:00","p":0.46,"s":0.5},{"t":"2020-01-15T08:00","p":0.81,"s":0.8},{"t":"2020-01-15T12:00","p":0.51,"s":0.55},{"t":"2020-01-15T16:00","p":0.76,"s":0.75},{"t":"2020-01-15T20:00","p":0.61,"s":0.6},
      {"t":"2020-01-16T00:00","p":0.66,"s":0.65},{"t":"2020-01-16T04:00","p":0.0,"s":0.07},{"t":"2020-01-16T08:00","p":0.51,"s":0.55},{"t":"2020-01-16T12:00","p":0.81,"s":0.8},{"t":"2020-01-16T16:00","p":0.61,"s":0.6},{"t":"2020-01-16T20:00","p":0.76,"s":0.75},
      {"t":"2020-01-17T00:00","p":0.83,"s":0.82},{"t":"2020-01-17T04:00","p":0.61,"s":0.6},{"t":"2020-01-17T08:00","p":0.76,"s":0.75},{"t":"2020-01-17T12:00","p":0.41,"s":0.45},{"t":"2020-01-17T16:00","p":0.81,"s":0.8},{"t":"2020-01-17T20:00","p":0.71,"s":0.7},
      {"t":"2020-01-18T00:00","p":0.88,"s":0.87},{"t":"2020-01-18T04:00","p":0.61,"s":0.6},{"t":"2020-01-18T08:00","p":0.71,"s":0.7},{"t":"2020-01-18T12:00","p":0.46,"s":0.5},{"t":"2020-01-18T16:00","p":0.76,"s":0.75},{"t":"2020-01-18T20:00","p":0.86,"s":0.85},
      {"t":"2020-01-19T00:00","p":0.9,"s":0.89},{"t":"2020-01-19T04:00","p":0.46,"s":0.5},{"t":"2020-01-19T08:00","p":-0.4,"s":-0.34},{"t":"2020-01-19T12:00","p":0.61,"s":0.6},{"t":"2020-01-19T16:00","p":0.71,"s":0.7},{"t":"2020-01-19T20:00","p":0.41,"s":0.45},
      {"t":"2020-01-20T00:00","p":0.66,"s":0.65},{"t":"2020-01-20T04:00","p":0.26,"s":0.3},{"t":"2020-01-20T08:00","p":0.51,"s":0.55},{"t":"2020-01-20T12:00","p":0.13,"s":0.2},{"t":"2020-01-20T16:00","p":0.36,"s":0.4},{"t":"2020-01-20T20:00","p":-0.13,"s":-0.06},
      {"t":"2020-01-21T00:00","p":0.31,"s":0.35},{"t":"2020-01-21T04:00","p":0.46,"s":0.5},{"t":"2020-01-21T08:00","p":0.03,"s":0.1},{"t":"2020-01-21T12:00","p":0.36,"s":0.4},{"t":"2020-01-21T16:00","p":0.13,"s":0.2},{"t":"2020-01-21T20:00","p":-0.2,"s":-0.13},
      {"t":"2020-01-22T00:00","p":0.13,"s":0.2},{"t":"2020-01-22T04:00","p":0.26,"s":0.3},{"t":"2020-01-22T08:00","p":-0.48,"s":-0.42},{"t":"2020-01-22T12:00","p":0.03,"s":0.1},{"t":"2020-01-22T16:00","p":0.36,"s":0.4},{"t":"2020-01-22T20:00","p":0.08,"s":0.15},
      {"t":"2020-01-23T00:00","p":0.26,"s":0.3},{"t":"2020-01-23T04:00","p":0.03,"s":0.1},{"t":"2020-01-23T08:00","p":-0.25,"s":-0.18},{"t":"2020-01-23T12:00","p":0.41,"s":0.45},{"t":"2020-01-23T16:00","p":0.13,"s":0.2},{"t":"2020-01-23T20:00","p":0.46,"s":0.5},
      {"t":"2020-01-24T00:00","p":0.36,"s":0.4},{"t":"2020-01-24T04:00","p":0.13,"s":0.2},{"t":"2020-01-24T08:00","p":0.26,"s":0.3},{"t":"2020-01-24T12:00","p":-0.56,"s":-0.49},{"t":"2020-01-24T16:00","p":0.18,"s":0.25},{"t":"2020-01-24T20:00","p":0.51,"s":0.55},
      {"t":"2020-01-25T00:00","p":0.61,"s":0.6},{"t":"2020-01-25T04:00","p":0.76,"s":0.75},{"t":"2020-01-25T08:00","p":0.46,"s":0.5},{"t":"2020-01-25T12:00","p":0.81,"s":0.8},{"t":"2020-01-25T16:00","p":0.66,"s":0.65},{"t":"2020-01-25T20:00","p":0.73,"s":0.72},
      {"t":"2020-01-26T00:00","p":0.71,"s":0.7},{"t":"2020-01-26T04:00","p":0.61,"s":0.6},{"t":"2020-01-26T08:00","p":0.76,"s":0.75},{"t":"2020-01-26T12:00","p":0.46,"s":0.5},{"t":"2020-01-26T16:00","p":0.26,"s":0.3},{"t":"2020-01-26T20:00","p":-0.2,"s":-0.13},
      {"t":"2020-01-27T00:00","p":0.36,"s":0.4},{"t":"2020-01-27T04:00","p":0.51,"s":0.55},{"t":"2020-01-27T08:00","p":-0.11,"s":-0.04},{"t":"2020-01-27T12:00","p":0.31,"s":0.35},{"t":"2020-01-27T16:00","p":0.61,"s":0.6},{"t":"2020-01-27T20:00","p":0.46,"s":0.5},
      {"t":"2020-01-28T00:00","p":0.71,"s":0.7},{"t":"2020-01-28T04:00","p":0.81,"s":0.8},{"t":"2020-01-28T08:00","p":0.51,"s":0.55},{"t":"2020-01-28T12:00","p":0.76,"s":0.75},{"t":"2020-01-28T16:00","p":0.61,"s":0.6},{"t":"2020-01-28T20:00","p":0.71,"s":0.7},
      {"t":"2020-01-29T00:00","p":0.26,"s":0.3},{"t":"2020-01-29T04:00","p":0.76,"s":0.75},{"t":"2020-01-29T08:00","p":0.51,"s":0.55},{"t":"2020-01-29T12:00","p":0.81,"s":0.8},{"t":"2020-01-29T16:00","p":0.41,"s":0.45},{"t":"2020-01-29T20:00","p":0.61,"s":0.6},
      {"t":"2020-01-30T00:00","p":0.71,"s":0.7},{"t":"2020-01-30T04:00","p":0.46,"s":0.5},{"t":"2020-01-30T08:00","p":0.26,"s":0.3},{"t":"2020-01-30T12:00","p":-0.16,"s":-0.09},{"t":"2020-01-30T16:00","p":0.36,"s":0.4},{"t":"2020-01-30T20:00","p":0.76,"s":0.75},
      {"t":"2020-01-31T00:00","p":0.81,"s":0.8},{"t":"2020-01-31T04:00","p":0.61,"s":0.6},{"t":"2020-01-31T08:00","p":0.46,"s":0.5},{"t":"2020-01-31T12:00","p":0.76,"s":0.75},{"t":"2020-01-31T16:00","p":0.41,"s":0.45},{"t":"2020-01-31T20:00","p":0.66,"s":0.65},
      {"t":"2020-02-01T00:00","p":0.51,"s":0.55},{"t":"2020-02-01T04:00","p":0.71,"s":0.7},{"t":"2020-02-01T08:00","p":0.41,"s":0.45},{"t":"2020-02-01T12:00","p":0.61,"s":0.6},{"t":"2020-02-01T16:00","p":0.81,"s":0.8},{"t":"2020-02-01T20:00","p":0.46,"s":0.5},
      {"t":"2020-02-02T00:00","p":0.83,"s":0.82},{"t":"2020-02-02T04:00","p":0.46,"s":0.5},{"t":"2020-02-02T08:00","p":0.61,"s":0.6},{"t":"2020-02-02T12:00","p":-0.17,"s":-0.1},{"t":"2020-02-02T16:00","p":0.41,"s":0.45},{"t":"2020-02-02T20:00","p":0.26,"s":0.3},
      {"t":"2020-02-03T00:00","p":0.36,"s":0.4},{"t":"2020-02-03T04:00","p":-0.3,"s":-0.39},{"t":"2020-02-03T08:00","p":0.26,"s":0.3},{"t":"2020-02-03T12:00","p":0.51,"s":0.55},{"t":"2020-02-03T16:00","p":0.08,"s":0.15},{"t":"2020-02-03T20:00","p":-0.25,"s":-0.3},
      {"t":"2020-02-04T00:00","p":0.46,"s":0.5},{"t":"2020-02-04T04:00","p":-0.15,"s":-0.2},{"t":"2020-02-04T08:00","p":0.36,"s":0.4},{"t":"2020-02-04T12:00","p":0.71,"s":0.7},{"t":"2020-02-04T16:00","p":0.51,"s":0.55},{"t":"2020-02-04T20:00","p":0.76,"s":0.75},
      {"t":"2020-02-05T00:00","p":0.61,"s":0.6},{"t":"2020-02-05T04:00","p":0.71,"s":0.7},{"t":"2020-02-05T08:00","p":0.41,"s":0.45},{"t":"2020-02-05T12:00","p":0.66,"s":0.65},{"t":"2020-02-05T16:00","p":0.13,"s":0.2},{"t":"2020-02-05T20:00","p":0.61,"s":0.6},
      {"t":"2020-02-06T00:00","p":0.71,"s":0.7},{"t":"2020-02-06T04:00","p":0.51,"s":0.55},{"t":"2020-02-06T08:00","p":0.36,"s":0.4},{"t":"2020-02-06T12:00","p":0.05,"s":0.0},{"t":"2020-02-06T16:00","p":0.66,"s":0.65},{"t":"2020-02-06T20:00","p":0.46,"s":0.5},
      {"t":"2020-02-07T00:00","p":0.76,"s":0.75},{"t":"2020-02-07T04:00","p":0.61,"s":0.6},{"t":"2020-02-07T08:00","p":0.73,"s":0.72},{"t":"2020-02-07T12:00","p":0.46,"s":0.5},{"t":"2020-02-07T16:00","p":0.71,"s":0.7},{"t":"2020-02-07T20:00","p":0.41,"s":0.45},
      {"t":"2020-02-08T00:00","p":0.61,"s":0.6},{"t":"2020-02-08T04:00","p":0.26,"s":0.3},{"t":"2020-02-08T08:00","p":0.71,"s":0.7},{"t":"2020-02-08T12:00","p":0.51,"s":0.55},{"t":"2020-02-08T16:00","p":0.66,"s":0.65},{"t":"2020-02-08T20:00","p":0.36,"s":0.4},
      {"t":"2020-02-09T00:00","p":0.51,"s":0.55},{"t":"2020-02-09T04:00","p":0.71,"s":0.7},{"t":"2020-02-09T08:00","p":0.81,"s":0.8},{"t":"2020-02-09T12:00","p":0.61,"s":0.6},{"t":"2020-02-09T16:00","p":-0.05,"s":-0.1},{"t":"2020-02-09T20:00","p":0.46,"s":0.5},
      {"t":"2020-02-10T00:00","p":0.71,"s":0.7},{"t":"2020-02-10T04:00","p":0.66,"s":0.65},{"t":"2020-02-10T08:00","p":0.81,"s":0.8},{"t":"2020-02-10T12:00","p":0.51,"s":0.55},{"t":"2020-02-10T16:00","p":0.76,"s":0.75},{"t":"2020-02-10T20:00","p":0.61,"s":0.6},
      {"t":"2020-02-11T00:00","p":0.81,"s":0.8},{"t":"2020-02-11T04:00","p":0.61,"s":0.6},{"t":"2020-02-11T08:00","p":0.76,"s":0.75},{"t":"2020-02-11T12:00","p":0.86,"s":0.85},{"t":"2020-02-11T16:00","p":0.71,"s":0.7},{"t":"2020-02-11T20:00","p":0.95,"s":0.94},
      {"t":"2020-02-12T00:00","p":0.86,"s":0.85},{"t":"2020-02-12T04:00","p":0.71,"s":0.7},{"t":"2020-02-12T08:00","p":0.61,"s":0.6},{"t":"2020-02-12T12:00","p":0.81,"s":0.8},{"t":"2020-02-12T16:00","p":0.46,"s":0.5},{"t":"2020-02-12T20:00","p":0.76,"s":0.75},
      {"t":"2020-02-13T00:00","p":0.71,"s":0.7},{"t":"2020-02-13T04:00","p":0.86,"s":0.85},{"t":"2020-02-13T08:00","p":0.46,"s":0.5},{"t":"2020-02-13T12:00","p":0.76,"s":0.75},{"t":"2020-02-13T16:00","p":0.81,"s":0.8},{"t":"2020-02-13T20:00","p":0.66,"s":0.65},
      {"t":"2020-02-14T00:00","p":0.95,"s":0.94},{"t":"2020-02-14T04:00","p":0.76,"s":0.75},{"t":"2020-02-14T08:00","p":0.61,"s":0.6},{"t":"2020-02-14T12:00","p":0.86,"s":0.85},{"t":"2020-02-14T16:00","p":0.46,"s":0.5},{"t":"2020-02-14T20:00","p":0.03,"s":0.1},
      {"t":"2020-02-15T00:00","p":-0.05,"s":-0.1},{"t":"2020-02-15T04:00","p":0.51,"s":0.55},{"t":"2020-02-15T08:00","p":0.71,"s":0.7},{"t":"2020-02-15T12:00","p":0.41,"s":0.45},{"t":"2020-02-15T16:00","p":0.66,"s":0.65},{"t":"2020-02-15T20:00","p":0.46,"s":0.5},
      {"t":"2020-02-16T00:00","p":0.61,"s":0.6},{"t":"2020-02-16T04:00","p":0.76,"s":0.75},{"t":"2020-02-16T08:00","p":0.36,"s":0.4},{"t":"2020-02-16T12:00","p":0.51,"s":0.55},{"t":"2020-02-16T16:00","p":0.71,"s":0.7},{"t":"2020-02-16T20:00","p":0.31,"s":0.35},
      {"t":"2020-02-17T00:00","p":0.46,"s":0.5},{"t":"2020-02-17T04:00","p":0.26,"s":0.3},{"t":"2020-02-17T08:00","p":0.66,"s":0.65},{"t":"2020-02-17T12:00","p":0.41,"s":0.45},{"t":"2020-02-17T16:00","p":0.61,"s":0.6},{"t":"2020-02-17T20:00","p":0.18,"s":0.25},
      {"t":"2020-02-18T00:00","p":0.51,"s":0.55},{"t":"2020-02-18T04:00","p":0.31,"s":0.35},{"t":"2020-02-18T08:00","p":0.61,"s":0.6},{"t":"2020-02-18T12:00","p":0.13,"s":0.2},{"t":"2020-02-18T16:00","p":0.46,"s":0.5},{"t":"2020-02-18T20:00","p":0.36,"s":0.4},
      {"t":"2020-02-19T00:00","p":0.41,"s":0.45},{"t":"2020-02-19T04:00","p":0.51,"s":0.55},{"t":"2020-02-19T08:00","p":0.03,"s":0.1},{"t":"2020-02-19T12:00","p":0.36,"s":0.4},{"t":"2020-02-19T16:00","p":-0.22,"s":-0.32},{"t":"2020-02-19T20:00","p":0.26,"s":0.3},
      {"t":"2020-02-20T00:00","p":0.46,"s":0.5},{"t":"2020-02-20T04:00","p":0.13,"s":0.2},{"t":"2020-02-20T08:00","p":0.41,"s":0.45},{"t":"2020-02-20T12:00","p":0.61,"s":0.6},{"t":"2020-02-20T16:00","p":0.26,"s":0.3},{"t":"2020-02-20T20:00","p":0.46,"s":0.5},
      {"t":"2020-02-21T00:00","p":0.66,"s":0.65},{"t":"2020-02-21T04:00","p":0.81,"s":0.8},{"t":"2020-02-21T08:00","p":0.51,"s":0.55},{"t":"2020-02-21T12:00","p":0.36,"s":0.4},{"t":"2020-02-21T16:00","p":0.61,"s":0.6},{"t":"2020-02-21T20:00","p":0.31,"s":0.35},
      {"t":"2020-02-22T00:00","p":0.0,"s":0.07},{"t":"2020-02-22T04:00","p":0.36,"s":0.4},{"t":"2020-02-22T08:00","p":0.61,"s":0.6},{"t":"2020-02-22T12:00","p":0.46,"s":0.5},{"t":"2020-02-22T16:00","p":0.41,"s":0.45}
    ],
    "hist": [
      {"x":-1.05,"d":0,"k":"P"},{"x":-0.9,"d":0.005,"k":"P"},{"x":-0.6,"d":0.01,"k":"P"},{"x":-0.45,"d":0.02,"k":"P"},{"x":-0.35,"d":0.025,"k":"P"},{"x":-0.3,"d":0.03,"k":"P"},{"x":-0.25,"d":0.05,"k":"P"},{"x":-0.2,"d":0.07,"k":"P"},{"x":-0.15,"d":0.09,"k":"P"},{"x":-0.1,"d":0.12,"k":"P"},{"x":-0.05,"d":0.17,"k":"P"},
      {"x":0,"d":0.27,"k":"P"},{"x":0.05,"d":0.3,"k":"P"},{"x":0.1,"d":0.55,"k":"P"},{"x":0.15,"d":0.62,"k":"P"},{"x":0.2,"d":0.91,"k":"P"},{"x":0.25,"d":1.2,"k":"P"},{"x":0.3,"d":1.2,"k":"P"},{"x":0.35,"d":1.4,"k":"P"},{"x":0.4,"d":1.48,"k":"P"},{"x":0.45,"d":1.49,"k":"P"},
      {"x":0.5,"d":1.57,"k":"P"},{"x":0.55,"d":1.64,"k":"P"},{"x":0.6,"d":1.61,"k":"P"},{"x":0.65,"d":1.43,"k":"P"},{"x":0.7,"d":1.43,"k":"P"},{"x":0.75,"d":1.07,"k":"P"},{"x":0.8,"d":0.76,"k":"P"},{"x":0.85,"d":0.57,"k":"P"},{"x":0.9,"d":0.16,"k":"P"},{"x":0.95,"d":0.01,"k":"P"},{"x":1.0,"d":0,"k":"P"},{"x":1.05,"d":0,"k":"P"},
      {"x":-1.05,"d":0,"k":"S"},{"x":-0.9,"d":0.005,"k":"S"},{"x":-0.75,"d":0.01,"k":"S"},{"x":-0.6,"d":0.02,"k":"S"},{"x":-0.45,"d":0.03,"k":"S"},{"x":-0.35,"d":0.04,"k":"S"},{"x":-0.25,"d":0.05,"k":"S"},{"x":-0.2,"d":0.06,"k":"S"},{"x":-0.15,"d":0.07,"k":"S"},{"x":-0.1,"d":0.13,"k":"S"},{"x":-0.05,"d":0.2,"k":"S"},
      {"x":0,"d":0.29,"k":"S"},{"x":0.05,"d":0.23,"k":"S"},{"x":0.1,"d":0.47,"k":"S"},{"x":0.15,"d":0.57,"k":"S"},{"x":0.2,"d":0.66,"k":"S"},{"x":0.25,"d":0.97,"k":"S"},{"x":0.3,"d":1.15,"k":"S"},{"x":0.35,"d":1.32,"k":"S"},{"x":0.4,"d":1.3,"k":"S"},{"x":0.45,"d":1.43,"k":"S"},
      {"x":0.5,"d":1.51,"k":"S"},{"x":0.55,"d":1.7,"k":"S"},{"x":0.6,"d":1.63,"k":"S"},{"x":0.65,"d":1.47,"k":"S"},{"x":0.7,"d":1.43,"k":"S"},{"x":0.75,"d":1.32,"k":"S"},{"x":0.8,"d":0.92,"k":"S"},{"x":0.85,"d":0.6,"k":"S"},{"x":0.9,"d":0.21,"k":"S"},{"x":0.95,"d":0.02,"k":"S"},{"x":1.0,"d":0.005,"k":"S"},{"x":1.05,"d":0,"k":"S"},
      {"x":-1.05,"d":0,"k":"C"},{"x":-0.5,"d":0.01,"k":"C"},{"x":-0.35,"d":0.02,"k":"C"},{"x":-0.25,"d":0.03,"k":"C"},{"x":-0.2,"d":0.04,"k":"C"},{"x":-0.15,"d":0.06,"k":"C"},{"x":-0.1,"d":0.1,"k":"C"},{"x":-0.05,"d":0.15,"k":"C"},
      {"x":0,"d":0.24,"k":"C"},{"x":0.05,"d":0.26,"k":"C"},{"x":0.1,"d":0.5,"k":"C"},{"x":0.15,"d":0.6,"k":"C"},{"x":0.2,"d":0.7,"k":"C"},{"x":0.25,"d":1.0,"k":"C"},{"x":0.3,"d":1.2,"k":"C"},{"x":0.35,"d":1.37,"k":"C"},{"x":0.4,"d":1.35,"k":"C"},{"x":0.45,"d":1.48,"k":"C"},
      {"x":0.5,"d":1.56,"k":"C"},{"x":0.55,"d":1.76,"k":"C"},{"x":0.6,"d":1.68,"k":"C"},{"x":0.65,"d":1.52,"k":"C"},{"x":0.7,"d":1.48,"k":"C"},{"x":0.75,"d":1.37,"k":"C"},{"x":0.8,"d":0.96,"k":"C"},{"x":0.85,"d":0.63,"k":"C"},{"x":0.9,"d":0.23,"k":"C"},{"x":0.95,"d":0.02,"k":"C"},{"x":1.0,"d":0,"k":"C"},{"x":1.05,"d":0,"k":"C"},
      {"x":-1.05,"d":0,"k":"T"},{"x":-0.6,"d":0.17,"k":"T"},{"x":-0.55,"d":0.33,"k":"T"},{"x":-0.5,"d":0,"k":"T"},{"x":-0.45,"d":0.5,"k":"T"},{"x":-0.4,"d":0.15,"k":"T"},{"x":-0.35,"d":0.33,"k":"T"},{"x":-0.3,"d":1.55,"k":"T"},{"x":-0.25,"d":1.03,"k":"T"},{"x":-0.2,"d":1.35,"k":"T"},
      {"x":-0.15,"d":1.93,"k":"T"},{"x":-0.1,"d":2.78,"k":"T"},{"x":-0.05,"d":3.66,"k":"T"},{"x":0,"d":6.1,"k":"T"},{"x":0.05,"d":0,"k":"T"},{"x":1.05,"d":0,"k":"T"}
    ]
  },
  "vconcat": [
    {
      "title": {"text": "Pearson/Spearman Correlations r[δθC,δzₚ],\u00a0\u00a0Δt = 3600 s", "anchor": "middle", "frame": "group", "offset": 6, "fontSize": 17},
      "width": 1189,
      "height": 207,
      "resolve": {"axis": {"x": "independent"}},
      "layer": [
        {
          "data": {"name": "bands"},
          "mark": {"type": "rect", "color": "black", "opacity": 0.135, "clip": true},
          "encoding": {
            "x": {"field": "a", "type": "temporal",
              "scale": {"domain": [{"year": 2019, "month": 11, "date": 12}, {"year": 2020, "month": 2, "date": 22, "hours": 15}], "nice": false},
              "axis": {"values": [{"year": 2019, "month": 11, "date": 15}, {"year": 2019, "month": 12, "date": 1}, {"year": 2019, "month": 12, "date": 15}, {"year": 2020, "month": 1, "date": 1}, {"year": 2020, "month": 1, "date": 15}, {"year": 2020, "month": 2, "date": 1}, {"year": 2020, "month": 2, "date": 15}],
                "format": "%Y-%m-%d", "title": "time", "grid": true, "labelPadding": 6, "titlePadding": 5, "labelOverlap": false}},
            "x2": {"field": "b"}
          }
        },
        {
          "data": {"name": "ts"},
          "mark": {"type": "line", "color": "#b8b8f4", "strokeWidth": 9, "clip": true},
          "encoding": {
            "x": {"field": "t", "type": "temporal", "axis": null},
            "y": {"field": "p", "type": "quantitative", "scale": {"domain": [-1.1, 1.1], "nice": false, "zero": false},
              "axis": {"values": [-1, -0.5, 0, 0.5, 1], "format": ".1f", "title": "r(T,zₚ)", "grid": true, "titlePadding": 10, "orient": "left"}}
          }
        },
        {
          "data": {"values": [{}]},
          "mark": {"type": "rule", "color": "black", "strokeWidth": 1.5},
          "encoding": {"y": {"datum": 0, "type": "quantitative"}}
        },
        {
          "data": {"name": "ts"},
          "mark": {"type": "line", "clip": true, "strokeWidth": 1.8},
          "encoding": {
            "x": {"field": "t", "type": "temporal",
              "axis": {"orient": "top", "values": [{"year": 2019, "month": 11, "date": 15}, {"year": 2019, "month": 12, "date": 1}, {"year": 2019, "month": 12, "date": 15}, {"year": 2020, "month": 1, "date": 1}, {"year": 2020, "month": 1, "date": 15}, {"year": 2020, "month": 2, "date": 1}, {"year": 2020, "month": 2, "date": 15}],
                "labelExpr": "timeFormat(datum.value,'%m%d')=='1115'?['55.5','-7.5']:timeFormat(datum.value,'%m%d')=='1201'?['164.4','-9.3']:timeFormat(datum.value,'%m%d')=='1215'?['-147.9','-13.1']:timeFormat(datum.value,'%m%d')=='0101'?['-157.8','-17.3']:timeFormat(datum.value,'%m%d')=='0115'?['112.2','-12.5']:timeFormat(datum.value,'%m%d')=='0201'?['-28.1','-13.7']:['-131.3','-11.1']",
                "title": "lon/lat", "titleFontSize": 15, "grid": false, "labelLineHeight": 18, "labelPadding": 23, "titlePadding": 3, "labelOverlap": false}},
            "y": {"field": "p", "type": "quantitative"},
            "stroke": {"datum": "P", "type": "nominal",
              "scale": {"domain": ["P", "S", "GP", "GS"], "range": ["#0000ff", "#ff0000", "#008000", "#32cd32"]},
              "legend": {"orient": "bottom-right", "offset": 10, "title": null, "symbolType": "M-1,0H1", "symbolSize": 1600, "labelFontSize": 17.5, "labelLimit": 0, "rowPadding": 8, "padding": 8, "labelOffset": 27, "fillColor": "rgba(255,255,255,0.8)", "strokeColor": "#cccccc", "cornerRadius": 4,
                "labelExpr": "datum.label=='P'?'rₚ[δθC,δzₚ]':datum.label=='S'?'rₛ[δθC,δzₚ]':datum.label=='GP'?'turbu index (rₚ)':'turbu index (rₛ)'",
                "encode": {"symbols": {"update": {"strokeWidth": {"signal": "datum.value=='GP'||datum.value=='GS'?5:1.5"}}}}}}
          }
        },
        {
          "data": {"name": "ts"},
          "mark": {"type": "line", "clip": true, "strokeWidth": 1.8},
          "encoding": {
            "x": {"field": "t", "type": "temporal", "axis": null},
            "y": {"field": "s", "type": "quantitative"},
            "stroke": {"datum": "S", "type": "nominal",
              "legend": {"orient": "bottom-right", "offset": 10, "title": null, "symbolType": "M-1,0H1", "symbolSize": 1600, "labelFontSize": 17.5, "labelLimit": 0, "rowPadding": 8, "padding": 8, "labelOffset": 27, "fillColor": "rgba(255,255,255,0.8)", "strokeColor": "#cccccc", "cornerRadius": 4,
                "labelExpr": "datum.label=='P'?'rₚ[δθC,δzₚ]':datum.label=='S'?'rₛ[δθC,δzₚ]':datum.label=='GP'?'turbu index (rₚ)':'turbu index (rₛ)'",
                "encode": {"symbols": {"update": {"strokeWidth": {"signal": "datum.value=='GP'||datum.value=='GS'?5:1.5"}}}}}}
          }
        },
        {
          "data": {"name": "greens"},
          "transform": [{"filter": "datum.k == 'P'"}],
          "mark": {"type": "rule", "clip": true, "strokeWidth": 5.5},
          "encoding": {
            "x": {"field": "a", "type": "temporal", "axis": null},
            "x2": {"field": "b"},
            "y": {"datum": 0.985, "type": "quantitative"},
            "stroke": {"datum": "GP", "type": "nominal",
              "legend": {"orient": "bottom-right", "offset": 10, "title": null, "symbolType": "M-1,0H1", "symbolSize": 1600, "labelFontSize": 17.5, "labelLimit": 0, "rowPadding": 8, "padding": 8, "labelOffset": 27, "fillColor": "rgba(255,255,255,0.8)", "strokeColor": "#cccccc", "cornerRadius": 4,
                "labelExpr": "datum.label=='P'?'rₚ[δθC,δzₚ]':datum.label=='S'?'rₛ[δθC,δzₚ]':datum.label=='GP'?'turbu index (rₚ)':'turbu index (rₛ)'",
                "encode": {"symbols": {"update": {"strokeWidth": {"signal": "datum.value=='GP'||datum.value=='GS'?5:1.5"}}}}}}
          }
        },
        {
          "data": {"name": "greens"},
          "transform": [{"filter": "datum.k == 'S'"}],
          "mark": {"type": "rule", "clip": true, "strokeWidth": 5.5},
          "encoding": {
            "x": {"field": "a", "type": "temporal", "axis": null},
            "x2": {"field": "b"},
            "y": {"datum": 1.045, "type": "quantitative"},
            "stroke": {"datum": "GS", "type": "nominal",
              "legend": {"orient": "bottom-right", "offset": 10, "title": null, "symbolType": "M-1,0H1", "symbolSize": 1600, "labelFontSize": 17.5, "labelLimit": 0, "rowPadding": 8, "padding": 8, "labelOffset": 27, "fillColor": "rgba(255,255,255,0.8)", "strokeColor": "#cccccc", "cornerRadius": 4,
                "labelExpr": "datum.label=='P'?'rₚ[δθC,δzₚ]':datum.label=='S'?'rₛ[δθC,δzₚ]':datum.label=='GP'?'turbu index (rₚ)':'turbu index (rₛ)'",
                "encode": {"symbols": {"update": {"strokeWidth": {"signal": "datum.value=='GP'||datum.value=='GS'?5:1.5"}}}}}}
          }
        }
      ]
    },
    {
      "width": 1189,
      "height": 207,
      "layer": [
        {
          "data": {"name": "hist"},
          "transform": [{"filter": "datum.k == 'P'"}],
          "mark": {"type": "area", "interpolate": "step-after", "color": "#b3b3fa"},
          "encoding": {
            "x": {"field": "x", "type": "quantitative", "scale": {"domain": [-1.155, 1.155], "nice": false, "zero": false},
              "axis": {"values": [-1, -0.5, 0, 0.5, 1], "format": ".1f", "title": "r[δθ,δzₚ]", "titleFontStyle": "italic", "grid": true, "labelPadding": 3, "titlePadding": 5}},
            "y": {"field": "d", "type": "quantitative", "scale": {"domain": [0, 6.405], "nice": false},
              "axis": {"values": [0, 2, 4, 6], "format": "d", "title": "probability density", "grid": true, "titlePadding": 9}}
          }
        },
        {
          "data": {"name": "hist"},
          "transform": [{"filter": "datum.k == 'S'"}],
          "mark": {"type": "line", "interpolate": "step-after", "strokeWidth": 3},
          "encoding": {
            "x": {"field": "x", "type": "quantitative"},
            "y": {"field": "d", "type": "quantitative"},
            "stroke": {"field": "k", "type": "nominal",
              "scale": {"domain": ["P", "S", "C", "T"], "range": ["#b3b3fa", "#ff0000", "#1f77b4", "#ff7f0e"]},
              "legend": {"orient": "top-right", "offset": 5, "title": null, "symbolType": "M-1,-0.34H1V0.34H-1Z", "symbolSize": 1444, "labelFontSize": 17.5, "labelLimit": 0, "rowPadding": 9, "padding": 7, "labelOffset": 26, "fillColor": "rgba(255,255,255,0.8)", "strokeColor": "#cccccc", "cornerRadius": 4,
                "labelExpr": "datum.label=='P'?'rₚ[δθC,δzₚ]':datum.label=='S'?'rₛ[δθC,δzₚ]':datum.label=='C'?'rₛ[δθC,δzₚ] (calm,rS)':'rₛ[δθC,δzₚ] (turb,rS)'",
                "encode": {"symbols": {"update": {"fill": {"signal": "datum.value=='P'?'#b3b3fa':'transparent'"}, "strokeWidth": {"signal": "datum.value=='S'?3:datum.value=='P'?0:1.5"}}}}}}
          }
        },
        {
          "data": {"name": "hist"},
          "transform": [{"filter": "datum.k == 'C'"}],
          "mark": {"type": "line", "interpolate": "step-after", "strokeWidth": 1.8},
          "encoding": {
            "x": {"field": "x", "type": "quantitative"},
            "y": {"field": "d", "type": "quantitative"},
            "stroke": {"field": "k", "type": "nominal",
              "legend": {"orient": "top-right", "offset": 5, "title": null, "symbolType": "M-1,-0.34H1V0.34H-1Z", "symbolSize": 1444, "labelFontSize": 17.5, "labelLimit": 0, "rowPadding": 9, "padding": 7, "labelOffset": 26, "fillColor": "rgba(255,255,255,0.8)", "strokeColor": "#cccccc", "cornerRadius": 4,
                "labelExpr": "datum.label=='P'?'rₚ[δθC,δzₚ]':datum.label=='S'?'rₛ[δθC,δzₚ]':datum.label=='C'?'rₛ[δθC,δzₚ] (calm,rS)':'rₛ[δθC,δzₚ] (turb,rS)'",
                "encode": {"symbols": {"update": {"fill": {"signal": "datum.value=='P'?'#b3b3fa':'transparent'"}, "strokeWidth": {"signal": "datum.value=='S'?3:datum.value=='P'?0:1.5"}}}}}}
          }
        },
        {
          "data": {"name": "hist"},
          "transform": [{"filter": "datum.k == 'T'"}],
          "mark": {"type": "line", "interpolate": "step-after", "strokeWidth": 1.5},
          "encoding": {
            "x": {"field": "x", "type": "quantitative"},
            "y": {"field": "d", "type": "quantitative"},
            "stroke": {"field": "k", "type": "nominal",
              "legend": {"orient": "top-right", "offset": 5, "title": null, "symbolType": "M-1,-0.34H1V0.34H-1Z", "symbolSize": 1444, "labelFontSize": 17.5, "labelLimit": 0, "rowPadding": 9, "padding": 7, "labelOffset": 26, "fillColor": "rgba(255,255,255,0.8)", "strokeColor": "#cccccc", "cornerRadius": 4,
                "labelExpr": "datum.label=='P'?'rₚ[δθC,δzₚ]':datum.label=='S'?'rₛ[δθC,δzₚ]':datum.label=='C'?'rₛ[δθC,δzₚ] (calm,rS)':'rₛ[δθC,δzₚ] (turb,rS)'",
                "encode": {"symbols": {"update": {"fill": {"signal": "datum.value=='P'?'#b3b3fa':'transparent'"}, "strokeWidth": {"signal": "datum.value=='S'?3:datum.value=='P'?0:1.5"}}}}}}
          }
        },
        {
          "data": {"values": [{"x": 0.057, "y": 1.2, "label": "(b)"}]},
          "mark": {"type": "text", "align": "left", "baseline": "middle", "fontSize": 27, "font": "DejaVu Sans Mono", "color": "black"},
          "encoding": {
            "x": {"field": "x", "type": "quantitative"},
            "y": {"field": "y", "type": "quantitative"},
            "text": {"field": "label"}
          }
        }
      ]
    }
  ]
}
